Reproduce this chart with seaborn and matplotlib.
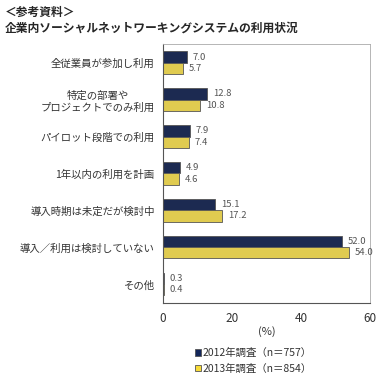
import pandas as pd
import seaborn as sns
import matplotlib.pyplot as plt
from matplotlib.ticker import FixedLocator

# data
categories = [
    "全従業員が参加し利用",
    "特定の部署や\nプロジェクトでのみ利用",
    "パイロット段階での利用",
    "1年以内の利用を計画",
    "導入時期は未定だが検討中",
    "導入／利用は検討していない",
    "その他",
]
series = ["2012年調査（n＝757）", "2013年調査（n＝854）"]
values_2012 = [7.0, 12.8, 7.9, 4.9, 15.1, 52.0, 0.3]
values_2013 = [5.7, 10.8, 7.4, 4.6, 17.2, 54.0, 0.4]
x_ticks = [0, 20, 40, 60]

palette = ["#13265a", "#f8dc38"]

df = pd.DataFrame({
    "category": categories * 2,
    "survey": [series[0]] * len(categories) + [series[1]] * len(categories),
    "value": values_2012 + values_2013,
})

sns.set_style("white")
plt.rcParams["font.family"] = ["Noto Sans CJK JP", "DejaVu Sans"]

fig = plt.figure(figsize=(3.9, 3.8), dpi=100)
ax = fig.add_axes([0.418, 0.203, 0.531, 0.681])

sns.barplot(data=df, y="category", x="value", hue="survey", order=categories,
            hue_order=series, palette=palette, orient="h", width=0.6,
            edgecolor="#555555", linewidth=0.6, ax=ax, legend=False)

# value labels
for cont in ax.containers:
    ax.bar_label(cont, fmt="%.1f", padding=4, fontsize=6.8, color="#555555")

ax.set_xlim(0, 60)
ax.set_xticks(x_ticks)
ax.set_ylim(len(categories) - 0.5, -0.5)
ax.set_xlabel("(%)", fontsize=8, color="#333333", labelpad=1)
ax.set_ylabel("")
ax.tick_params(axis="x", labelsize=8.5, colors="#333333", length=3, direction="out")
ax.tick_params(axis="y", which="major", length=0, labelsize=7.5, colors="#333333", pad=6)
ax.yaxis.set_minor_locator(FixedLocator([i - 0.5 for i in range(len(categories) + 1)]))
ax.tick_params(axis="y", which="minor", length=3, direction="out", color="#555555")
ax.tick_params(axis="x", color="#555555")
for lbl in ax.get_yticklabels():
    lbl.set_multialignment("center")

for side in ["left", "bottom"]:
    ax.spines[side].set_color("#555555")
    ax.spines[side].set_linewidth(0.8)
for side in ["top", "right"]:
    ax.spines[side].set_color("#aaaaaa")
    ax.spines[side].set_linewidth(0.6)

# titles
fig.text(0.013, 0.968, "＜参考資料＞", fontsize=8.5, fontweight="bold", va="center")
fig.text(0.013, 0.926, "企業内ソーシャルネットワーキングシステムの利用状況",
         fontsize=8.5, fontweight="bold", va="center")

# legend
handles = [plt.Rectangle((0, 0), 1, 1, facecolor=c, edgecolor="#555555", linewidth=0.6)
           for c in palette]
fig.legend(handles, series, loc="center", bbox_to_anchor=(0.65, 0.05), frameon=False,
           fontsize=7.5, handlelength=0.6, handleheight=0.6, handletextpad=0.2,
           labelspacing=0.5, labelcolor="#333333")

fig.savefig("out.png", dpi=100)
